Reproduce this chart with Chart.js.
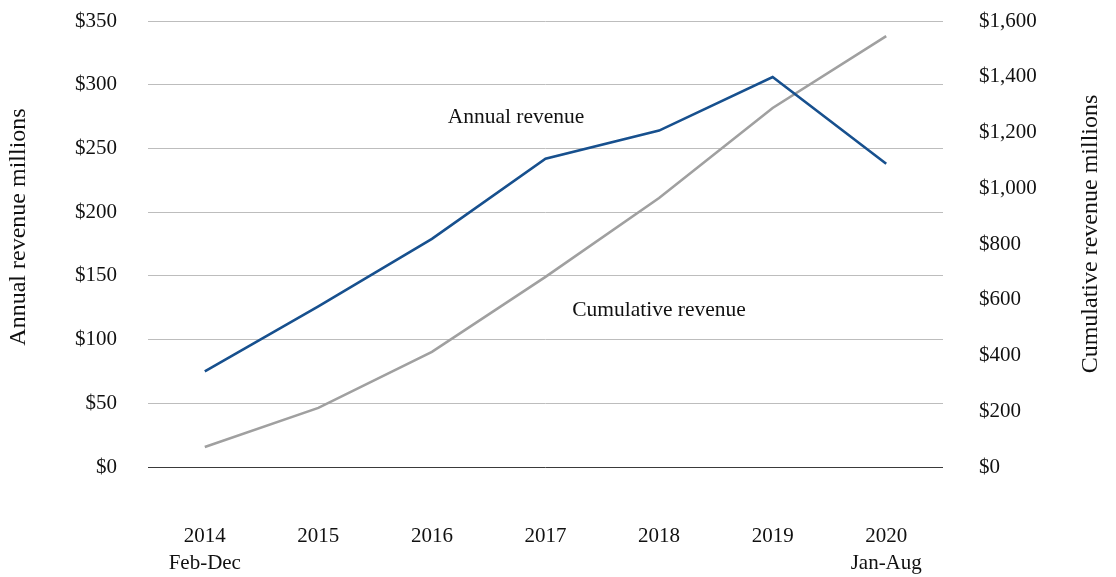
<!DOCTYPE html>
<html>
<head>
<meta charset="utf-8">
<title>Annual and cumulative revenue</title>
<script src="https://cdn.jsdelivr.net/npm/chart.js@4/dist/chart.umd.min.js"></script>
<style>
  html, body { margin: 0; padding: 0; background: #fff; }
  #wrap { width: 1116px; height: 577px; }
</style>
</head>
<body>
<div id="wrap"><canvas id="revenueChart" width="1116" height="577"></canvas></div>
<script>
// years on the x axis (partial years get a second line)
const years = [['2014', 'Feb-Dec'], '2015', '2016', '2017', '2018', '2019', ['2020', 'Jan-Aug']];

// revenue, $ millions
const annualRevenue = [75, 126, 179, 242, 264, 306, 238];
const cumulativeRevenue = [72, 212, 413, 682, 965, 1288, 1546];

// axis ranges
const annualMax = 350, annualStep = 50;
const cumulativeMax = 1600, cumulativeStep = 200;

const serif = '"Liberation Serif", "Times New Roman", serif';
const inkColor = '#111';

const money = v => '$' + Number(v).toLocaleString('en-US');

// keep the value axes from reserving extra room above the top tick
function fitValueAxis(width) {
  return scale => {
    scale.width = width;
    scale.paddingTop = 0;
    scale.paddingBottom = 0;
  };
}

// axis titles and the inline series names
const textPlugin = {
  id: 'revenueText',
  afterDraw(chart) {
    const c = chart.ctx;
    c.save();
    c.fillStyle = inkColor;
    c.textAlign = 'center';
    c.textBaseline = 'middle';

    c.font = '24px ' + serif;
    c.save();
    c.translate(19, 227);
    c.rotate(-Math.PI / 2);
    c.fillText('Annual revenue millions', 0, 0);
    c.restore();

    c.save();
    c.translate(1091, 234);
    c.rotate(-Math.PI / 2);
    c.fillText('Cumulative revenue millions', 0, 0);
    c.restore();

    c.font = '21.5px ' + serif;
    c.fillText('Annual revenue', 516, 117);
    c.fillText('Cumulative revenue', 659, 310);
    c.restore();
  }
};

new Chart(document.getElementById('revenueChart'), {
  type: 'line',
  data: {
    labels: years,
    datasets: [
      {
        label: 'Annual revenue',
        data: annualRevenue,
        yAxisID: 'yAnnual',
        borderColor: '#17508e',
        borderWidth: 2.6,
        pointRadius: 0,
        tension: 0,
        fill: false
      },
      {
        label: 'Cumulative revenue',
        data: cumulativeRevenue,
        yAxisID: 'yCumulative',
        borderColor: '#a0a0a0',
        borderWidth: 2.6,
        pointRadius: 0,
        tension: 0,
        fill: false
      }
    ]
  },
  options: {
    responsive: false,
    animation: false,
    layout: { padding: { top: 21, left: 0, right: 0, bottom: 0 } },
    plugins: {
      legend: { display: false },
      tooltip: { enabled: false }
    },
    scales: {
      x: {
        offset: true,
        grid: { display: false, drawTicks: false },
        border: { display: false },
        ticks: {
          color: inkColor,
          padding: 56,
          maxRotation: 0,
          autoSkip: false,
          font: { family: serif, size: 21, lineHeight: 27 / 21 }
        },
        afterFit(scale) { scale.height = 110; }
      },
      yAnnual: {
        position: 'left',
        min: 0,
        max: annualMax,
        grid: {
          drawTicks: false,
          lineWidth: 1,
          color: ctx => ctx.tick.value === 0 ? '#3a3a3a' : '#bdbdbd'
        },
        border: { display: false },
        ticks: {
          stepSize: annualStep,
          color: inkColor,
          padding: 31,
          font: { family: serif, size: 21 },
          callback: v => money(v)
        },
        afterFit: fitValueAxis(148)
      },
      yCumulative: {
        position: 'right',
        min: 0,
        max: cumulativeMax,
        grid: { display: false, drawTicks: false },
        border: { display: false },
        ticks: {
          stepSize: cumulativeStep,
          color: inkColor,
          padding: 36,
          font: { family: serif, size: 21 },
          callback: v => money(v)
        },
        afterFit: fitValueAxis(173)
      }
    }
  },
  plugins: [textPlugin]
});
</script>
</body>
</html>
